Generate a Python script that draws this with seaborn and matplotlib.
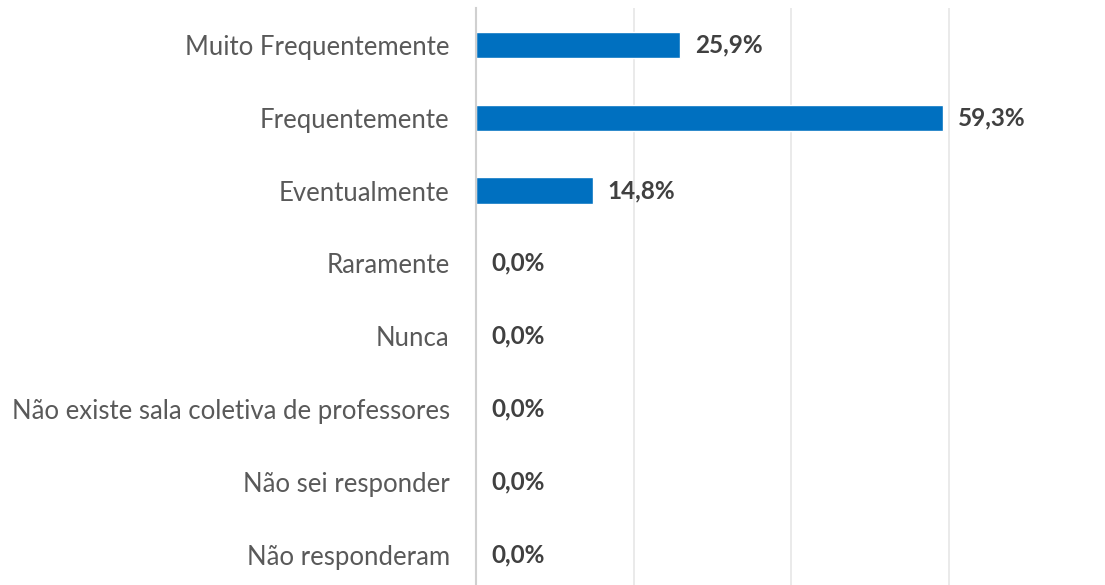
import matplotlib
matplotlib.use("Agg")
import matplotlib.pyplot as plt
import seaborn as sns
import pandas as pd

categories = ["Muito Frequentemente", "Frequentemente", "Eventualmente", "Raramente",
              "Nunca", "Não existe sala coletiva de professores", "Não sei responder",
              "Não responderam"]
values = [25.9, 59.3, 14.8, 0.0, 0.0, 0.0, 0.0, 0.0]
labels = ["25,9%", "59,3%", "14,8%", "0,0%", "0,0%", "0,0%", "0,0%", "0,0%"]

sns.set_theme(style="white")
plt.rcParams['font.family'] = ['Lato', 'DejaVu Sans']

df = pd.DataFrame({"cat": categories, "val": values})

fig = plt.figure(figsize=(11.05, 5.85), dpi=100)
ax = fig.add_axes([0.4308, -0.0103, 0.5701, 0.9958])
sns.barplot(data=df, x="val", y="cat", orient="h", color="#0070C0",
            width=0.36, ax=ax, saturation=1)
ax.set_xlim(0, 80)
ax.set_ylim(len(categories) - 0.5, -0.5)
ax.set_xticks([20, 40, 60, 80])
ax.xaxis.grid(True, color="#e8e8e8", linewidth=1.3)
ax.set_axisbelow(True)
ax.tick_params(axis="x", bottom=False, labelbottom=False)
ax.tick_params(axis="y", left=False, length=0, labelsize=18.5, labelcolor="#595959", pad=19)
ax.set_xlabel("")
ax.set_ylabel("")
for s in ["top", "right", "bottom"]:
    ax.spines[s].set_visible(False)
ax.spines["left"].set_color("#d0d0d0")
ax.spines["left"].set_linewidth(1.5)

for i, (v, lab) in enumerate(zip(values, labels)):
    ax.annotate(lab, xy=(v, i), xytext=(11, 0), textcoords="offset points",
                va="center", ha="left", fontsize=17.5, fontweight="bold",
                color="#404040")

fig.savefig("out.png", dpi=100)
